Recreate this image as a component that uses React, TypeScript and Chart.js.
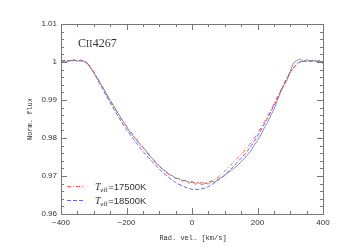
import React, { useEffect, useRef } from "react";
import { Chart, registerables } from "chart.js";

Chart.register(...registerables);

const modelVel: number[] = [
  -400, -375, -350, -325, -300, -275, -250, -225, -200, -175, -150, -125, -100, -75, -50, -25,
  0, 25, 50, 75, 100, 125, 150, 175, 200, 225, 250, 275, 300, 325, 350, 375, 400,
];
const flux17500: number[] = [
  1.0002, 1.0003, 1.0003, 1.0001, 0.9975, 0.9937, 0.9899, 0.9863, 0.9831, 0.9803, 0.9776, 0.975,
  0.9726, 0.9707, 0.9695, 0.9688, 0.9684, 0.9682, 0.9684, 0.9694, 0.9713, 0.9735, 0.9757, 0.9782,
  0.9812, 0.9849, 0.989, 0.9933, 0.9974, 0.9999, 1.0002, 1.0002, 1.0001,
];
const flux18500: number[] = [
  1.0003, 1.0004, 1.0004, 1.0002, 0.9972, 0.9932, 0.9893, 0.9856, 0.9822, 0.9793, 0.9765, 0.9741,
  0.9718, 0.9699, 0.9683, 0.9672, 0.9665, 0.9665, 0.9672, 0.9686, 0.9703, 0.9724, 0.9747, 0.9772,
  0.9805, 0.9843, 0.9885, 0.993, 0.9972, 0.9998, 1.0002, 1.0002, 1.0001,
];
const obsVel: number[] = [
  -400, -390, -380, -370, -360, -350, -340, -330, -320, -310, -300, -290, -280, -270, -260, -250,
  -240, -230, -220, -210, -200, -190, -180, -170, -160, -150, -140, -130, -120, -110, -100, -90,
  -80, -70, -60, -50, -40, -30, -20, -10, 0, 10, 20, 30, 40, 50, 60, 70, 80, 90, 100, 110, 120,
  130, 140, 150, 160, 170, 180, 190, 200, 210, 220, 230, 240, 250, 260, 270, 280, 290, 300, 310,
  320, 330, 340, 350, 360, 370, 380, 390, 400,
];
const obsFlux: number[] = [
  1.0002, 1.0003, 1.0001, 1.0004, 1.0006, 1.0002, 1.0005, 1.0001, 0.9996, 0.9985, 0.9972, 0.9958,
  0.9943, 0.993, 0.9914, 0.9899, 0.9886, 0.9871, 0.9857, 0.9843, 0.983, 0.9816, 0.9806, 0.9796,
  0.9784, 0.9775, 0.9766, 0.9753, 0.9746, 0.9733, 0.9727, 0.9718, 0.9713, 0.9704, 0.9701, 0.9693,
  0.9694, 0.9686, 0.9689, 0.9681, 0.9685, 0.9678, 0.9683, 0.9676, 0.9681, 0.9679, 0.9686, 0.9684,
  0.9692, 0.9696, 0.9701, 0.9709, 0.9715, 0.9722, 0.9728, 0.9738, 0.9746, 0.9757, 0.9766, 0.9781,
  0.9793, 0.9808, 0.9825, 0.984, 0.9858, 0.9875, 0.9897, 0.992, 0.9938, 0.9952, 0.9975, 0.9998,
  1.0004, 1.0008, 1.0002, 1.0006, 1.0003, 1.0005, 1.0002, 1.0004, 0.9994,
];

const xTicks: number[] = [-400, -200, 0, 200, 400];
const yTicks: number[] = [0.96, 0.97, 0.98, 0.99, 1.0, 1.01];
const lineLabel: string = "CII4267";
const legendTemps: string[] = ["17500K", "18500K"];
const xTitle: string = "Rad. vel. [km/s]";
const yTitle: string = "Norm. flux";

const RED = "rgba(255,80,80,0.95)";
const BLUE = "rgba(90,90,255,0.95)";
const GRAY = "rgba(120,120,120,0.9)";

const decorPlugin = {
  id: "decor",
  afterDraw(chart: any) {
    const { ctx, chartArea: a, scales } = chart;
    const xs = scales.x;
    const ys = scales.y;
    ctx.save();
    ctx.strokeStyle = "#777";
    ctx.lineWidth = 1;
    ctx.setLineDash([]);
    ctx.strokeRect(Math.round(a.left) + 0.5, Math.round(a.top) + 0.5, Math.round(a.right - a.left), Math.round(a.bottom - a.top));
    for (let v = -400; v <= 400; v += 50) {
      const px = Math.round(xs.getPixelForValue(v)) + 0.5;
      const len = v % 200 === 0 ? 6 : 3;
      ctx.beginPath();
      ctx.moveTo(px, a.bottom);
      ctx.lineTo(px, a.bottom - len);
      ctx.moveTo(px, a.top);
      ctx.lineTo(px, a.top + len);
      ctx.stroke();
    }
    for (let i = 0; i <= 25; i++) {
      const v = 0.96 + i * 0.002;
      const py = Math.round(ys.getPixelForValue(v)) + 0.5;
      const len = i % 5 === 0 ? 6 : 3;
      ctx.beginPath();
      ctx.moveTo(a.left, py);
      ctx.lineTo(a.left + len, py);
      ctx.moveTo(a.right, py);
      ctx.lineTo(a.right - len, py);
      ctx.stroke();
    }
    ctx.fillStyle = "#333";
    ctx.textBaseline = "alphabetic";
    ctx.textAlign = "left";
    ctx.font = "12px 'Liberation Serif'";
    let tx = 78;
    ctx.fillText("C", tx, 46.5);
    tx += ctx.measureText("C").width;
    ctx.font = "9.5px 'Liberation Serif'";
    ctx.fillText("II", tx, 46.5);
    tx += ctx.measureText("II").width + 0.5;
    ctx.font = "12px 'Liberation Serif'";
    ctx.fillText(lineLabel.replace("CII", ""), tx, 46.5);
    const rows = [
      { y: 186, color: RED, dash: [4, 2, 1, 2] },
      { y: 200, color: BLUE, dash: [4, 2] },
    ];
    rows.forEach((r, i) => {
      ctx.strokeStyle = r.color;
      ctx.lineWidth = 1;
      ctx.setLineDash(r.dash);
      ctx.beginPath();
      ctx.moveTo(67, r.y + 0.5);
      ctx.lineTo(84, r.y + 0.5);
      ctx.stroke();
      ctx.setLineDash([]);
      ctx.fillStyle = "#333";
      let lx = 95;
      ctx.font = "italic 10px 'Liberation Serif'";
      ctx.fillText("T", lx, r.y + 3.5);
      lx += ctx.measureText("T").width;
      ctx.font = "6.5px 'Liberation Serif'";
      ctx.fillText("eff", lx, r.y + 5.5);
      lx += ctx.measureText("eff").width + 0.5;
      ctx.font = "9.5px 'Liberation Sans'";
      ctx.fillText("=" + legendTemps[i], lx, r.y + 3.5);
    });
    ctx.fillStyle = "#333";
    ctx.font = "7px 'Liberation Mono'";
    ctx.textAlign = "center";
    ctx.textBaseline = "middle";
    ctx.fillText(xTitle, (a.left + a.right) / 2 + 1, 238);
    ctx.save();
    ctx.translate(30, (a.top + a.bottom) / 2);
    ctx.rotate(-Math.PI / 2);
    ctx.fillText(yTitle, 0, 0);
    ctx.restore();
    ctx.restore();
  },
};

export default function App() {
  const ref = useRef<HTMLCanvasElement | null>(null);
  useEffect(() => {
    document.body.style.margin = "0";
    const canvas = ref.current;
    if (!canvas) return;
    const chart = new Chart(canvas, {
      type: "line",
      data: {
        datasets: [
          {
            label: "obs",
            data: obsVel.map((v, i) => ({ x: v, y: obsFlux[i] })),
            borderColor: GRAY,
            borderWidth: 0.9,
            pointRadius: 0,
            tension: 0,
          },
          {
            label: "17500K",
            data: modelVel.map((v, i) => ({ x: v, y: flux17500[i] })),
            borderColor: RED,
            borderWidth: 1,
            borderDash: [4, 2, 1, 2],
            pointRadius: 0,
            tension: 0.2,
          },
          {
            label: "18500K",
            data: modelVel.map((v, i) => ({ x: v, y: flux18500[i] })),
            borderColor: BLUE,
            borderWidth: 1,
            borderDash: [4, 2],
            pointRadius: 0,
            tension: 0.2,
          },
        ],
      },
      options: {
        animation: false,
        responsive: false,
        maintainAspectRatio: false,
        devicePixelRatio: 1,
        layout: { padding: { left: 8, right: 31, top: 24, bottom: 0 } },
        plugins: { legend: { display: false }, tooltip: { enabled: false } },
        scales: {
          x: {
            type: "linear",
            min: -400,
            max: 400,
            grid: { display: false, drawTicks: false },
            border: { display: false },
            afterBuildTicks: (s: any) => {
              s.ticks = xTicks.map((v) => ({ value: v }));
            },
            afterFit: (s: any) => {
              s.height = 36;
            },
            ticks: {
              padding: 4,
              color: "#333",
              font: { family: "'Liberation Sans'", size: 8 },
              maxRotation: 0,
              callback: (v: any) => String(v).replace("-", "\u2212"),
            },
          },
          y: {
            type: "linear",
            min: 0.96,
            max: 1.01,
            grid: { display: false, drawTicks: false },
            border: { display: false },
            afterBuildTicks: (s: any) => {
              s.ticks = yTicks.map((v) => ({ value: v }));
            },
            afterFit: (s: any) => {
              s.width = 53;
            },
            ticks: {
              padding: 4,
              color: "#333",
              font: { family: "'Liberation Sans'", size: 8 },
              callback: (v: any) => String(Number(Number(v).toFixed(2))),
            },
          },
        },
      },
      plugins: [decorPlugin],
    });
    return () => chart.destroy();
  }, []);
  return (
    <div style={{ width: 354, height: 250, background: "#fff" }}>
      <canvas ref={ref} width={354} height={250} style={{ display: "block", width: 354, height: 250 }} />
    </div>
  );
}
